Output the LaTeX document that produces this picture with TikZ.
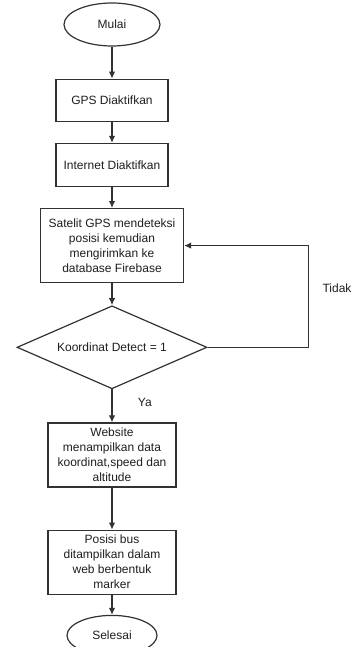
\documentclass[tikz,border=0pt]{standalone}
\usepackage{fontspec}
\setmainfont{Liberation Sans}
\usetikzlibrary{arrows.meta,positioning,shapes.geometric}
\definecolor{fcline}{RGB}{50,50,50}
\definecolor{fctext}{RGB}{30,30,30}
\tikzset{
  fcterm/.style={ellipse, draw=fcline, line width=1.2pt, text=fctext, inner sep=0pt,
                 font=\fontsize{12}{15}\selectfont, minimum width=96pt, minimum height=43pt},
  fcproc/.style={rectangle, draw=fcline, line width=1.2pt, text=fctext, inner sep=0pt,
                 align=center, font=\fontsize{12}{15}\selectfont, minimum width=112pt, minimum height=43pt},
  fcdec/.style={diamond, aspect=2.3, draw=fcline, line width=1.2pt, text=fctext, inner sep=0pt,
                font=\fontsize{12}{15}\selectfont, minimum width=190pt, minimum height=83pt},
  fclbl/.style={text=fctext, font=\fontsize{12}{15}\selectfont},
  farr/.style={-{Latex[length=7pt,width=6.5pt]}, line width=1.2pt, fcline},
}
\begin{document}
\begin{tikzpicture}
        \useasboundingbox (0,0) rectangle (357pt,-647pt);
        \node[fcterm](mulai) at (112pt,-24.5pt){Mulai};
        \node[fcproc,below=32pt of mulai,minimum height=42pt](gps){GPS Diaktifkan};
        \node[fcproc,below=21pt of gps](inet){Internet Diaktifkan};
        \node[fcproc,below=21pt of inet,minimum width=143pt,minimum height=74pt](sat){Satelit GPS mendeteksi\\posisi kemudian\\mengirimkan ke\\database Firebase};
        \node[fcdec,below=22pt of sat](detect){Koordinat Detect = 1};
        \node[fcproc,below=33pt of detect,minimum width=128pt,minimum height=64pt](web){Website\\menampilkan data\\koordinat,speed dan\\altitude};
        \node[fcproc,below=42pt of web,minimum width=128pt,minimum height=64pt](bus){Posisi bus\\ditampilkan dalam\\web berbentuk\\marker};
        \node[fcterm,below=20pt of bus,minimum width=90pt,minimum height=40pt](selesai){Selesai};
        \draw[farr](mulai)--(gps);\draw[farr](gps)--(inet);\draw[farr](inet)--(sat);\draw[farr](sat)--(detect);
        \draw[farr](detect)--node[fclbl,pos=0.4,right=22pt]{Ya}(web);
        \draw[farr](web)--(bus);\draw[farr](bus)--(selesai);
        \draw[farr](detect.east)--++(101pt,0)|-node[fclbl,pos=0.29,right=10pt]{Tidak}(sat.east);
    \end{tikzpicture}
\end{document}
